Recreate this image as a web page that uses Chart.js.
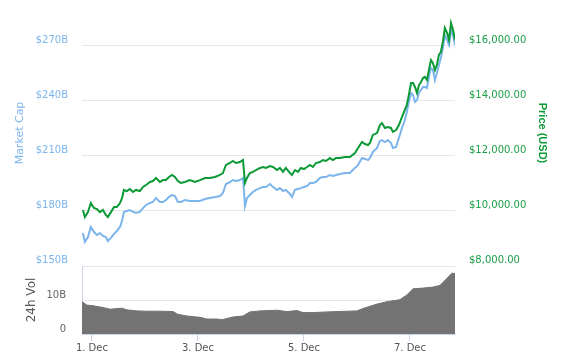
<!DOCTYPE html>
<html><head><meta charset="utf-8">
<script src="https://cdn.jsdelivr.net/npm/chart.js@4.4.1/dist/chart.umd.min.js"></script>
<style>
html,body{margin:0;padding:0;background:#fff;}
#wrap{position:relative;width:563px;height:357px;}
#wrap canvas{position:absolute;left:0;top:0;}
</style></head><body>
<div id="wrap"><canvas id="main" width="563" height="357"></canvas><canvas id="vol" width="563" height="357"></canvas></div>
<script>
// hours since 1 Dec 00:00
const hours = [-4.1,-3.2,-1.8,-0.5,0.9,2.3,3.6,5.0,6.3,7.2,
8.6,10.0,11.3,12.7,13.6,14.5,15.8,17.2,18.6,19.9,
21.7,23.1,24.5,26.3,27.6,29.0,30.8,32.2,33.5,34.9,
36.2,37.6,38.9,40.3,42.1,44.4,46.6,48.9,51.2,53.4,
55.7,58.0,59.3,60.7,62.5,63.8,65.2,67.0,68.4,69.3,
70.2,71.5,72.9,74.3,76.1,77.4,78.8,80.6,82.0,83.8,
85.1,86.5,87.8,89.7,90.6,91.9,93.3,94.6,96.0,97.4,
98.7,100.1,101.4,103.2,104.6,105.9,107.8,109.1,110.5,112.3,
114.6,116.8,119.1,120.5,122.3,123.6,125.0,125.9,127.2,129.1,
130.4,131.3,132.7,134.0,135.4,136.3,137.7,139.0,140.4,141.7,
142.6,143.5,144.5,145.4,146.3,147.2,148.1,149.0,149.9,150.8,
151.7,152.6,153.5,154.4,155.3,156.2,157.1,158.0,158.9,159.8,
160.8,161.7,162.6,163.5,164.4];
const priceUSD = [10040,9780,9960,10290,10110,10070,9960,10040,9855,9780,
9960,10145,10145,10290,10470,10765,10725,10800,10690,10765,
10725,10875,10945,11055,11090,11200,11055,11125,11125,11235,
11310,11235,11090,11020,11055,11125,11055,11125,11200,11200,
11235,11310,11380,11675,11745,11820,11745,11780,11855,11020,
11200,11380,11420,11490,11565,11600,11565,11635,11600,11490,
11565,11420,11565,11380,11310,11490,11420,11565,11525,11600,
11675,11600,11745,11780,11855,11820,11925,11855,11925,11925,
11965,11965,12110,12290,12510,12435,12400,12475,12765,12835,
13125,13200,13020,13055,13020,12875,12945,13125,13420,13675,
13855,14220,14655,14655,14510,14290,14580,14690,14835,14875,
14765,15125,15490,15380,15125,15310,15675,15780,16145,16655,
16475,16220,16835,16580,16220];
const marketCapB = [168.0,163.1,165.8,171.3,168.5,166.9,168.0,166.4,165.8,163.6,
165.3,167.5,169.1,171.3,174.5,179.5,180.0,180.5,179.5,178.9,
179.5,181.6,183.3,184.4,184.9,187.1,184.9,184.9,186.0,187.6,
188.7,188.2,184.9,184.9,186.0,185.5,185.5,185.5,186.5,187.1,
187.6,188.2,189.8,194.7,195.8,196.9,196.4,196.9,198.0,182.7,
187.1,188.7,190.4,191.5,192.5,193.1,193.1,194.7,193.1,191.5,
192.5,190.9,191.5,189.3,187.6,191.5,192.0,192.5,193.1,193.6,
195.3,195.3,195.8,198.0,198.5,198.5,199.6,199.1,199.6,200.2,
200.7,200.7,203.5,205.1,208.9,208.4,207.8,208.9,212.2,214.4,
218.2,218.7,217.6,218.7,217.1,214.4,214.9,219.8,225.3,229.6,
234.0,239.5,244.4,243.3,239.5,240.5,244.4,246.0,247.6,247.6,
247.1,253.1,258.0,256.9,251.5,255.3,259.6,263.5,268.9,276.0,
273.3,270.5,278.7,276.0,270.5];
const volHours = [-4.5,-2.3,0.5,5.0,8.2,13.6,15.8,20.4,24.9,30.8,36.7,38.9,43.0,48.9,52.1,56.6,58.9,63.8,68.4,71.5,
76.1,83.8,88.3,92.8,95.5,100.1,106.4,115.5,120.0,122.7,129.1,133.6,139.5,142.6,145.4,149.9,154.4,157.6,160.8,163.0,164.4];
const volumeB = [9.5,8.5,8.3,7.8,7.3,7.6,7.1,6.8,6.7,6.7,6.6,5.8,5.3,4.9,4.4,4.4,4.2,5.0,5.3,6.5,
6.8,7.0,6.6,6.9,6.3,6.3,6.5,6.7,6.8,7.5,8.8,9.5,10.1,11.5,13.3,13.5,13.8,14.3,16.4,17.9,17.8];
const xTickHours = [0,48,96,144];
const xTickLabels = ['1. Dec','3. Dec','5. Dec','7. Dec'];
const capTicks = [150,180,210,240,270];
const priceTicks = [8000,10000,12000,14000,16000];
const volTicks = [0,10,20];

Chart.defaults.font.family = "'DejaVu Sans', sans-serif";
Chart.defaults.font.size = 10;
const X_MIN = -4.5, X_MAX = 164.4;
const noPad = s => { s.paddingTop = 0; s.paddingBottom = 0; };

new Chart(document.getElementById('main'), {
  type: 'line',
  data: { datasets: [
    { label: 'Price (USD)', data: hours.map((h, i) => ({ x: h, y: priceUSD[i] })), yAxisID: 'yPrice',
      borderColor: '#0b9a36', borderWidth: 2, pointRadius: 0, tension: 0 },
    { label: 'Market Cap', data: hours.map((h, i) => ({ x: h, y: marketCapB[i] })), yAxisID: 'yCap',
      borderColor: '#7cb5ec', borderWidth: 2, pointRadius: 0, tension: 0 }
  ]},
  options: {
    responsive: false, animation: false,
    layout: { padding: { top: 0, bottom: 91, left: 0, right: 0 } },
    plugins: { legend: { display: false }, tooltip: { enabled: false } },
    scales: {
      x: { type: 'linear', display: false, min: X_MIN, max: X_MAX },
      yCap: {
        position: 'left', min: 150, max: 295.09,
        afterBuildTicks: s => { s.ticks = capTicks.map(v => ({ value: v })); },
        afterFit: s => { s.width = 82; noPad(s); },
        grid: { color: '#e6e6e6', drawTicks: false },
        border: { display: false },
        ticks: { color: '#7cb5ec', padding: 14, labelOffset: -6, callback: v => '$' + v + 'B' },
        title: { display: true, text: 'Market Cap', color: '#7cb5ec', font: { size: 11 }, padding: { top: 14, bottom: 0 } }
      },
      yPrice: {
        position: 'right', min: 8000, max: 17672.7,
        afterBuildTicks: s => { s.ticks = priceTicks.map(v => ({ value: v })); },
        afterFit: s => { s.width = 108; noPad(s); },
        grid: { drawOnChartArea: false, drawTicks: false },
        border: { display: false },
        ticks: { color: '#1a9e46', padding: 14, labelOffset: -6,
          callback: v => '$' + Number(v).toLocaleString('en-US', { minimumFractionDigits: 2, maximumFractionDigits: 2 }) },
        title: { display: true, text: 'Price (USD)', color: '#0b9a36',
          font: { family: "'Liberation Sans', sans-serif", size: 11, weight: 'bold' }, padding: { top: 14, bottom: 0 } }
      }
    }
  }
});

new Chart(document.getElementById('vol'), {
  type: 'line',
  data: { datasets: [
    { label: '24h Vol', data: volHours.map((h, i) => ({ x: h, y: volumeB[i] })),
      borderColor: '#737373', backgroundColor: '#737373', borderWidth: 1, fill: 'origin', pointRadius: 0, tension: 0 }
  ]},
  options: {
    responsive: false, animation: false,
    layout: { padding: { top: 266, bottom: 0, left: 0, right: 108 } },
    plugins: { legend: { display: false }, tooltip: { enabled: false } },
    scales: {
      x: {
        type: 'linear', min: X_MIN, max: X_MAX,
        afterBuildTicks: s => { s.ticks = xTickHours.map(v => ({ value: v })); },
        afterFit: s => { s.height = 23; s.paddingLeft = 0; s.paddingRight = 0; },
        grid: { drawOnChartArea: false, drawTicks: true, tickLength: 7, color: '#ccd6eb' },
        border: { display: true, color: '#ccd6eb' },
        ticks: { color: '#555', padding: 1, maxRotation: 0, autoSkip: false,
          callback: v => { const i = xTickHours.indexOf(v); return i >= 0 ? xTickLabels[i] : ''; } }
      },
      y: {
        min: 0, max: 20,
        afterBuildTicks: s => { s.ticks = volTicks.map(v => ({ value: v })); },
        afterFit: s => { s.width = 82; noPad(s); },
        grid: { color: '#e6e6e6', drawTicks: false },
        border: { display: true, color: '#ccd6eb' },
        ticks: { color: '#666', padding: 16, labelOffset: -5, callback: v => v === 0 ? '0' : (v === 20 ? '' : v + 'B') },
        title: { display: true, text: '24h Vol', color: '#555', font: { size: 12 }, padding: { top: 25, bottom: 0 } }
      }
    }
  }
});
</script>
</body></html>
